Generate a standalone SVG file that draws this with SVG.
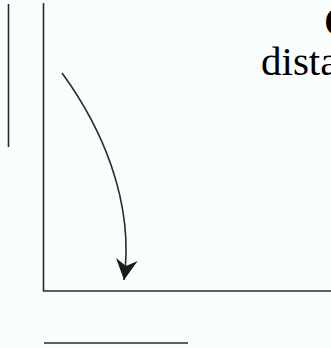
<svg xmlns="http://www.w3.org/2000/svg" width="331" height="348" viewBox="0 0 331 348">
<style>
.ln{fill:none;stroke:#2a2a2a;stroke-width:1.6}
.t{font-family:"Liberation Serif","Times New Roman",serif;fill:#000}
</style>
<defs>
<marker id="ah" markerUnits="userSpaceOnUse" markerWidth="24" markerHeight="24" viewBox="-21 -11 22 22" refX="0" refY="0" orient="auto">
<path d="M0,0 L-19,-10 L-13,0 L-19,10 Z" fill="#1a1a1a"/>
</marker>
</defs>
<rect width="331" height="348" fill="#f9fefd"/>
<g id="shapes">
<line class="ln" x1="8.5" y1="4" x2="8.5" y2="147"/>
<path class="ln" d="M43.5,3 L43.5,291 L331,291"/>
<line class="ln" x1="44" y1="343" x2="188" y2="343" stroke-width="2"/>
</g>
<g id="connectors">
<path class="ln" d="M62,73 C100,125 135,200 124,280" marker-end="url(#ah)" stroke-width="1.8"/>
</g>
<g id="labels">
<text class="t" x="324" y="36" font-size="42" font-weight="bold">C</text>
<text class="t" x="261" y="75" font-size="41">dista</text>
</g>
</svg>
